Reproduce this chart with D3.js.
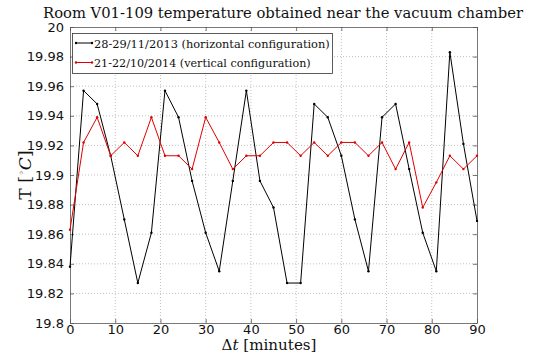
<!DOCTYPE html>
<html><head><meta charset="utf-8">
<script src="https://cdn.jsdelivr.net/npm/d3@7"></script>
<style>body{margin:0;background:#fff}svg{display:block}</style>
</head><body>
<svg id="c" width="536" height="356"></svg>
<script>
const times = d3.range(0, 91, 3);
const seriesH = [19.838,19.957,19.948,19.913,19.870,19.827,19.861,19.957,19.939,19.896,19.861,19.835,19.896,19.957,19.896,19.878,19.827,19.827,19.948,19.939,19.913,19.870,19.835,19.939,19.948,19.904,19.861,19.835,19.983,19.921,19.869];
const seriesV = [19.863,19.922,19.939,19.913,19.922,19.913,19.939,19.913,19.913,19.904,19.939,19.922,19.904,19.913,19.913,19.922,19.922,19.913,19.922,19.913,19.922,19.922,19.913,19.922,19.904,19.922,19.878,19.895,19.913,19.904,19.913];
const xTicks = [0,10,20,30,40,50,60,70,80,90];
const yTicks = [19.8,19.82,19.84,19.86,19.88,19.9,19.92,19.94,19.96,19.98,20];
const legendLabels = ["28-29/11/2013 (horizontal configuration)","21-22/10/2014 (vertical configuration)"];
const title = "Room V01-109 temperature obtained near the vacuum chamber";

const L=70, R=477, T=27, B=323;
const SERIF = "DejaVu Serif";
const svg = d3.select("#c");
const x = d3.scaleLinear().domain([0,90]).range([L,R]);
const y = d3.scaleLinear().domain([19.8,20]).range([B,T]);

function fit(sel, width){
  const w = sel.node().getComputedTextLength();
  const fs = parseFloat(sel.attr("font-size"));
  sel.attr("font-size", fs*width/w);
}

// grid
const g = svg.append("g");
g.selectAll(".gx").data(xTicks.slice(1,-1)).join("line")
  .attr("x1",d=>x(d)).attr("x2",d=>x(d)).attr("y1",T).attr("y2",B)
  .attr("stroke","#999").attr("stroke-width",0.6).attr("stroke-dasharray","1,2");
g.selectAll(".gy").data(yTicks.slice(1,-1)).join("line")
  .attr("y1",d=>y(d)).attr("y2",d=>y(d)).attr("x1",L).attr("x2",R)
  .attr("stroke","#999").attr("stroke-width",0.6).attr("stroke-dasharray","1,2");

// axes with inward ticks
const fmt = d=>String(+d.toFixed(2));
svg.append("g").attr("transform",`translate(0,${B})`)
  .call(d3.axisBottom(x).tickValues(xTicks).tickSizeInner(-4).tickSizeOuter(0).tickPadding(2));
svg.append("g").attr("transform",`translate(0,${T})`)
  .call(d3.axisTop(x).tickValues(xTicks).tickSizeInner(-4).tickSizeOuter(0).tickFormat(""));
svg.append("g").attr("transform",`translate(${L},0)`)
  .call(d3.axisLeft(y).tickValues(yTicks).tickSizeInner(-4).tickSizeOuter(0).tickPadding(6).tickFormat(fmt));
svg.append("g").attr("transform",`translate(${R},0)`)
  .call(d3.axisRight(y).tickValues(yTicks).tickSizeInner(-4).tickSizeOuter(0).tickFormat(""));
svg.selectAll(".domain").attr("stroke","#555").attr("stroke-width",0.8);
svg.selectAll(".tick line").attr("stroke","#555").attr("stroke-width",0.8);
svg.selectAll(".tick text").attr("font-family","DejaVu Sans").attr("font-size",13).attr("fill","#111");

// lines
const line = d3.line().x((d,i)=>x(times[i])).y(d=>y(d));
const series = [{vals:seriesH,color:"#000"},{vals:seriesV,color:"#e00000"}];
series.forEach(s=>{
  svg.append("path").attr("d",line(s.vals)).attr("fill","none").attr("stroke",s.color).attr("stroke-width",1);
  svg.append("g").selectAll("circle").data(s.vals).join("circle")
    .attr("cx",(d,i)=>x(times[i])).attr("cy",d=>y(d)).attr("r",1.2).attr("fill",s.color);
});

// legend
const lg = svg.append("g");
lg.append("rect").attr("x",72.5).attr("y",33.5).attr("width",260).attr("height",40)
  .attr("fill","#fff").attr("stroke","#333").attr("stroke-width",0.8);
series.forEach((s,i)=>{
  const yy = 43 + i*19.5;
  lg.append("line").attr("x1",76).attr("x2",92).attr("y1",yy).attr("y2",yy).attr("stroke",s.color).attr("stroke-width",1);
  lg.append("circle").attr("cx",76).attr("cy",yy).attr("r",1.2).attr("fill",s.color);
  lg.append("circle").attr("cx",92).attr("cy",yy).attr("r",1.2).attr("fill",s.color);
  const t = lg.append("text").attr("x",94).attr("y",yy+4.5).attr("font-family",SERIF).attr("font-size",13)
    .attr("fill","#111").text(legendLabels[i]);
  fit(t, i===0 ? 236 : 217);
});

// title
const tt = svg.append("text").attr("x",283).attr("y",18).attr("text-anchor","middle")
  .attr("font-family",SERIF).attr("font-size",16).attr("fill","#111").text(title);
fit(tt, 480);

// x label
const xl = svg.append("text").attr("x",269).attr("y",350).attr("text-anchor","middle")
  .attr("font-family",SERIF).attr("font-size",16).attr("fill","#111");
xl.append("tspan").text("Δ");
xl.append("tspan").attr("font-style","italic").text("t");
xl.append("tspan").text(" [minutes]");
fit(xl, 95);

// y label
const yl = svg.append("text").attr("transform",`translate(31,175) rotate(-90)`).attr("text-anchor","middle")
  .attr("font-family",SERIF).attr("font-size",16).attr("fill","#111");
yl.append("tspan").text("T [");
yl.append("tspan").attr("dy",-6).attr("font-size",10).text("◦");
yl.append("tspan").attr("dy",6).attr("font-style","italic").text("C");
yl.append("tspan").text("]");
fit(yl, 50);
</script>
</body></html>
